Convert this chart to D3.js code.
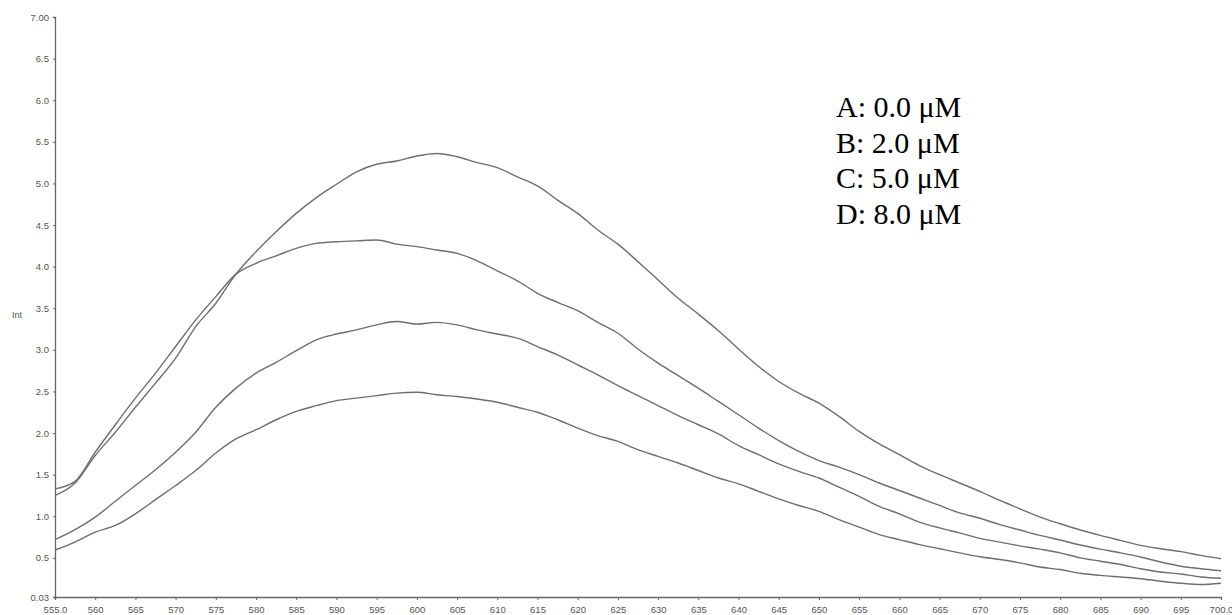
<!DOCTYPE html>
<html>
<head>
<meta charset="utf-8">
<script src="https://cdn.jsdelivr.net/npm/d3@7/dist/d3.min.js"></script>
<style>
  html, body { margin: 0; padding: 0; background: #fff; }
  svg { display: block; }
</style>
</head>
<body>
<svg id="chart" width="1232" height="615"></svg>
<script>
// Wavelength grid (nm)
const wavelengths = d3.range(555, 700.01, 2.5);

// Intensity series
const seriesA = [1.25,1.40,1.73,2.01,2.31,2.60,2.90,3.28,3.56,3.91,4.18,4.42,4.64,4.83,4.99,5.14,5.23,5.27,5.33,5.36,5.32,5.25,5.19,5.08,4.97,4.80,4.64,4.44,4.27,4.06,3.84,3.62,3.43,3.23,3.01,2.80,2.62,2.48,2.36,2.20,2.02,1.87,1.74,1.61,1.50,1.40,1.30,1.19,1.09,0.99,0.91,0.835,0.77,0.71,0.65,0.61,0.575,0.53,0.49];
const seriesB = [1.33,1.42,1.77,2.10,2.42,2.72,3.04,3.36,3.64,3.91,4.04,4.13,4.22,4.28,4.30,4.31,4.32,4.27,4.24,4.20,4.16,4.07,3.95,3.83,3.68,3.57,3.47,3.33,3.20,3.01,2.84,2.69,2.54,2.38,2.22,2.06,1.91,1.78,1.67,1.59,1.50,1.40,1.31,1.22,1.13,1.04,0.976,0.90,0.835,0.77,0.715,0.655,0.605,0.56,0.51,0.45,0.40,0.37,0.346];
const seriesC = [0.72,0.84,0.99,1.18,1.37,1.56,1.77,2.01,2.31,2.54,2.72,2.85,2.99,3.12,3.19,3.24,3.30,3.34,3.31,3.33,3.30,3.24,3.19,3.14,3.04,2.94,2.82,2.70,2.57,2.45,2.33,2.21,2.10,1.99,1.85,1.74,1.63,1.54,1.46,1.35,1.24,1.12,1.03,0.93,0.86,0.80,0.735,0.69,0.645,0.605,0.56,0.50,0.46,0.42,0.37,0.33,0.306,0.27,0.255];
const seriesD = [0.595,0.69,0.81,0.89,1.03,1.20,1.37,1.55,1.76,1.93,2.04,2.16,2.26,2.33,2.39,2.42,2.45,2.48,2.49,2.46,2.44,2.41,2.37,2.31,2.25,2.16,2.06,1.97,1.90,1.80,1.72,1.64,1.55,1.46,1.39,1.30,1.21,1.13,1.06,0.96,0.87,0.78,0.72,0.66,0.61,0.56,0.514,0.48,0.44,0.39,0.36,0.315,0.29,0.27,0.25,0.22,0.195,0.18,0.195];

const xTicks = [555,560,565,570,575,580,585,590,595,600,605,610,615,620,625,630,635,640,645,650,655,660,665,670,675,680,685,690,695,700];
const xTickLabels = ["555.0","560","565","570","575","580","585","590","595","600","605","610","615","620","625","630","635","640","645","650","655","660","665","670","675","680","685","690","695","700.0"];
const yTicks = [0.03,0.5,1.0,1.5,2.0,2.5,3.0,3.5,4.0,4.5,5.0,5.5,6.0,6.5,7.0];
const yTickLabels = ["0.03","0.5","1.0","1.5","2.0","2.5","3.0","3.5","4.0","4.5","5.0","5.5","6.0","6.5","7.00"];
const legendLabels = ["A: 0.0 \u03BCM","B: 2.0 \u03BCM","C: 5.0 \u03BCM","D: 8.0 \u03BCM"];
const yLabel = "Int";

const svg = d3.select("#chart");
const mLeft = 55, mRight = 1221, mTop = 17, mBottom = 597;

const x = d3.scaleLinear().domain([555, 700]).range([mLeft, mRight]);
const y = d3.scaleLinear().domain([0.03, 7.0]).range([mBottom, mTop]);

const axisColor = "#666";
const textColor = "#555";

// X axis
const xAxis = d3.axisBottom(x)
  .tickValues(xTicks)
  .tickFormat((d, i) => xTickLabels[i])
  .tickSize(3)
  .tickPadding(6);
const gx = svg.append("g").attr("transform", `translate(0,${mBottom})`).call(xAxis);
gx.select(".domain").attr("stroke", axisColor).attr("stroke-width", 1.3);
gx.selectAll(".tick line").attr("stroke", axisColor);
gx.selectAll(".tick text").attr("fill", textColor)
  .style("font-family", "'Liberation Sans', Arial, sans-serif").style("font-size", "9.5px");

// Y axis
const yAxis = d3.axisLeft(y)
  .tickValues(yTicks)
  .tickFormat((d, i) => yTickLabels[i])
  .tickSize(2)
  .tickPadding(4);
const gy = svg.append("g").attr("transform", `translate(${mLeft},0)`).call(yAxis);
gy.select(".domain").attr("stroke", axisColor).attr("stroke-width", 1.3);
gy.selectAll(".tick line").attr("stroke", axisColor);
gy.selectAll(".tick text").attr("fill", textColor)
  .style("font-family", "'Liberation Sans', Arial, sans-serif").style("font-size", "9.5px");

svg.append("text")
  .attr("x", 17).attr("y", 316)
  .attr("text-anchor", "middle").attr("dominant-baseline", "middle")
  .attr("fill", textColor)
  .style("font-family", "'Liberation Sans', Arial, sans-serif").style("font-size", "9px")
  .text(yLabel);

// Curves
const line = d3.line()
  .x((d, i) => x(wavelengths[i]))
  .y(d => y(d))
  .curve(d3.curveMonotoneX);

[seriesA, seriesB, seriesC, seriesD].forEach(s => {
  svg.append("path")
    .datum(s)
    .attr("d", line)
    .attr("fill", "none")
    .attr("stroke", "#6e6e6e")
    .attr("stroke-width", 1.4);
});

// Legend text
svg.append("g").selectAll("text")
  .data(legendLabels)
  .join("text")
  .attr("x", 836)
  .attr("y", (d, i) => 117 + i * 35.7)
  .attr("fill", "#000")
  .style("font-family", "'Liberation Serif', 'Times New Roman', serif")
  .style("font-size", "30px")
  .text(d => d);
</script>
</body>
</html>
